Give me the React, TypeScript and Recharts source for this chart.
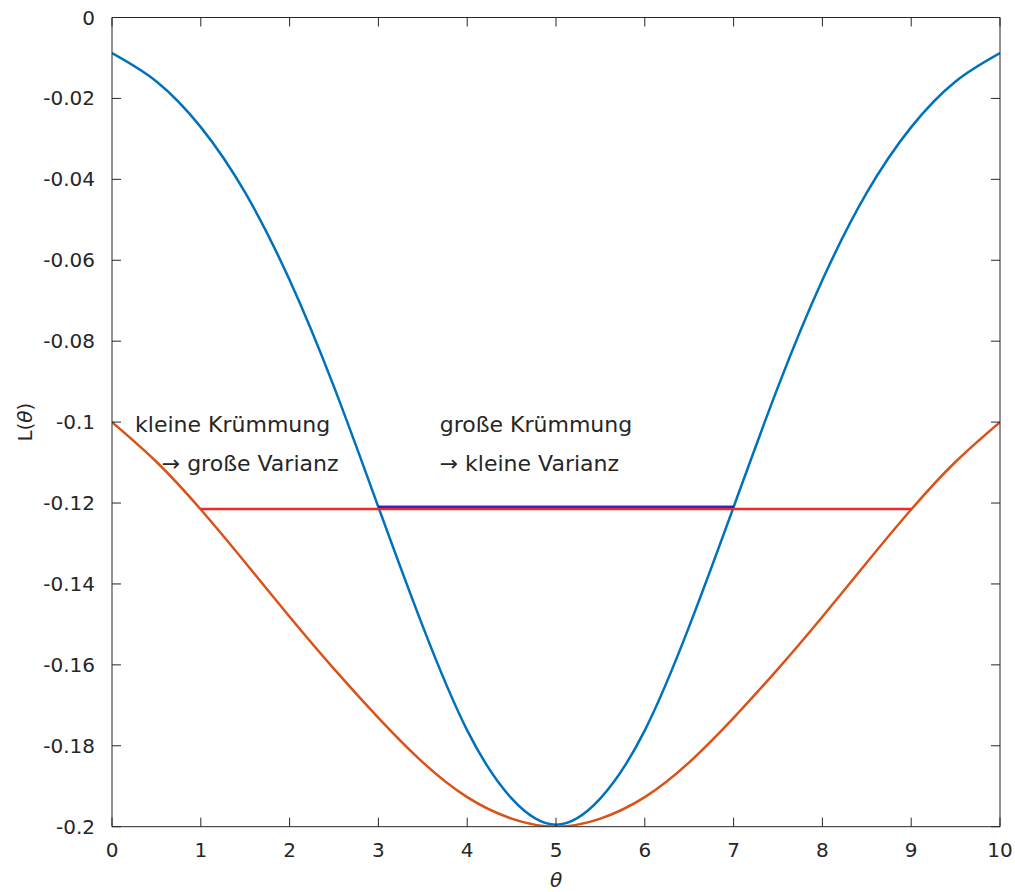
import { LineChart, Line, XAxis, YAxis, ReferenceDot } from 'recharts';

// θ grid and the two likelihood curves read at half steps
const theta = [0, 0.5, 1, 1.5, 2, 2.5, 3, 3.5, 4, 4.5, 5, 5.5, 6, 6.5, 7, 7.5, 8, 8.5, 9, 9.5, 10];
const narrowCurve = [
  -0.0088, -0.0158, -0.0271, -0.0433, -0.0649, -0.0913, -0.121, -0.1505, -0.1762, -0.193, -0.1995,
  -0.193, -0.1762, -0.1505, -0.121, -0.0913, -0.0649, -0.0433, -0.0271, -0.0158, -0.0088,
];
const wideCurve = [
  -0.1, -0.1098, -0.1216, -0.1347, -0.1481, -0.161, -0.1731, -0.1841, -0.1927, -0.198, -0.2,
  -0.198, -0.1927, -0.1841, -0.1731, -0.161, -0.1481, -0.1347, -0.1216, -0.1098, -0.1,
];

// horizontal widths at the same level
const wideSpan = [1, 9];
const wideLevel = -0.1215;
const narrowSpan = [3, 7];
const narrowLevel = -0.1209;

const xTicks = [0, 1, 2, 3, 4, 5, 6, 7, 8, 9, 10];
const yTicks = [0, -0.02, -0.04, -0.06, -0.08, -0.1, -0.12, -0.14, -0.16, -0.18, -0.2];

const notes = [
  { t: 0.26, v: -0.1005, text: 'kleine Krümmung' },
  { t: 0.56, v: -0.1102, text: '→ große Varianz' },
  { t: 3.69, v: -0.1005, text: 'große Krümmung' },
  { t: 3.69, v: -0.1102, text: '→ kleine Varianz' },
];

const narrowData = theta.map((t, i) => ({ t, v: narrowCurve[i] }));
const wideData = theta.map((t, i) => ({ t, v: wideCurve[i] }));
const wideSpanData = wideSpan.map((t) => ({ t, v: wideLevel }));
const narrowSpanData = narrowSpan.map((t) => ({ t, v: narrowLevel }));

const FONT = '"DejaVu Sans", sans-serif';
const INK = '#262626';
const TICK_LEN = 9;
const Y_GAP = 17;
const X_GAP = 10;

const LeftTick = ({ x, y, payload }: any) => (
  <g>
    <line x1={x + Y_GAP} y1={y} x2={x + Y_GAP + TICK_LEN} y2={y} stroke={INK} strokeWidth={1} />
    <text x={x} y={y} dy={7} textAnchor="end" fontFamily={FONT} fontSize={20} fill={INK}>
      {payload.value === 0 ? '0' : String(payload.value)}
    </text>
  </g>
);

const RightTick = ({ x, y }: any) => (
  <line x1={x - TICK_LEN} y1={y} x2={x} y2={y} stroke={INK} strokeWidth={1} />
);

const BottomTick = ({ x, y, payload }: any) => (
  <g>
    <line x1={x} y1={y - X_GAP} x2={x} y2={y - X_GAP - TICK_LEN} stroke={INK} strokeWidth={1} />
    <text x={x} y={y} dy={20} textAnchor="middle" fontFamily={FONT} fontSize={20} fill={INK}>
      {payload.value}
    </text>
  </g>
);

const TopTick = ({ x, y }: any) => (
  <line x1={x} y1={y} x2={x} y2={y + TICK_LEN} stroke={INK} strokeWidth={1} />
);

const YLabel = ({ viewBox }: any) => {
  const cx = viewBox.x + 25;
  const cy = viewBox.y + viewBox.height / 2;
  return (
    <text
      x={cx}
      y={cy}
      transform={`rotate(-90, ${cx}, ${cy})`}
      textAnchor="middle"
      dy={7}
      fontFamily={FONT}
      fontSize={20}
      fill={INK}
    >
      L(<tspan fontStyle="italic">θ</tspan>)
    </text>
  );
};

const XLabel = ({ viewBox }: any) => (
  <text
    x={viewBox.x + viewBox.width / 2}
    y={viewBox.y + 60}
    textAnchor="middle"
    fontFamily={FONT}
    fontStyle="italic"
    fontSize={20}
    fill={INK}
  >
    θ
  </text>
);

const noteShape = (text: string) => (props: any) => (
  <text x={props.cx} y={props.cy} dy={8} fontFamily={FONT} fontSize={22} fill={INK}>
    {text}
  </text>
);

export default function App() {
  return (
    <div style={{ position: 'absolute', left: 0, top: 0, background: '#fff' }}>
      <LineChart
        width={1015}
        height={892}
        margin={{ top: 16.5, right: 14, left: 0, bottom: 20.3 }}
      >
        <XAxis
          xAxisId="b"
          dataKey="t"
          type="number"
          domain={[0, 10]}
          ticks={xTicks}
          allowDataOverflow
          height={45}
          stroke={INK}
          tickLine={false}
          tickSize={0}
          tickMargin={X_GAP}
          tick={<BottomTick />}
          label={<XLabel />}
        />
        <XAxis
          xAxisId="t"
          dataKey="t"
          orientation="top"
          type="number"
          domain={[0, 10]}
          ticks={xTicks}
          allowDataOverflow
          height={1}
          stroke={INK}
          tickLine={false}
          tickSize={0}
          tickMargin={0}
          tick={<TopTick />}
        />
        <YAxis
          yAxisId="l"
          type="number"
          domain={[-0.2, 0]}
          ticks={yTicks}
          allowDataOverflow
          width={112}
          stroke={INK}
          tickLine={false}
          tickSize={0}
          tickMargin={Y_GAP}
          tick={<LeftTick />}
          label={<YLabel />}
        />
        <YAxis
          yAxisId="r"
          orientation="right"
          type="number"
          domain={[-0.2, 0]}
          ticks={yTicks}
          allowDataOverflow
          width={1}
          stroke={INK}
          tickLine={false}
          tickSize={0}
          tickMargin={0}
          tick={<RightTick />}
        />

        {/* box frame: top and right axes share the data but draw nothing */}
        <Line
          xAxisId="t"
          yAxisId="r"
          data={narrowData}
          dataKey="v"
          stroke="none"
          dot={false}
          activeDot={false}
          isAnimationActive={false}
        />

        <Line
          xAxisId="b"
          yAxisId="l"
          data={narrowData}
          dataKey="v"
          type="natural"
          stroke="#0072BD"
          strokeWidth={2.5}
          dot={false}
          isAnimationActive={false}
        />
        <Line
          xAxisId="b"
          yAxisId="l"
          data={wideData}
          dataKey="v"
          type="natural"
          stroke="#D95319"
          strokeWidth={2.5}
          dot={false}
          isAnimationActive={false}
        />
        <Line
          xAxisId="b"
          yAxisId="l"
          data={wideSpanData}
          dataKey="v"
          type="linear"
          stroke="#F02A2A"
          strokeWidth={2.5}
          dot={false}
          isAnimationActive={false}
        />
        <Line
          xAxisId="b"
          yAxisId="l"
          data={narrowSpanData}
          dataKey="v"
          type="linear"
          stroke="#1A00C8"
          strokeOpacity={0.85}
          strokeWidth={2.5}
          dot={false}
          isAnimationActive={false}
        />

        {notes.map((n) => (
          <ReferenceDot
            key={n.text}
            xAxisId="b"
            yAxisId="l"
            x={n.t}
            y={n.v}
            r={0}
            shape={noteShape(n.text)}
          />
        ))}
      </LineChart>
    </div>
  );
}
